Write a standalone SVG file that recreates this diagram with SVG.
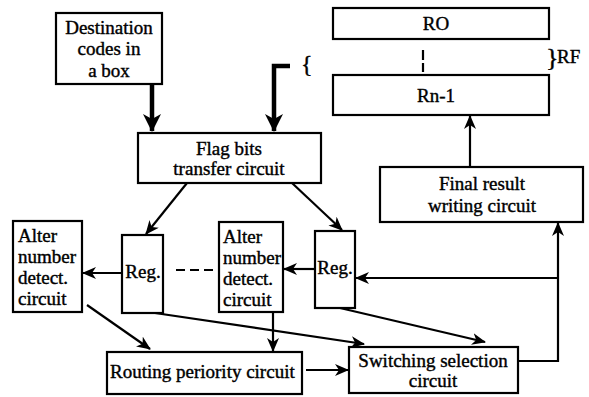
<svg xmlns="http://www.w3.org/2000/svg" width="589" height="397" viewBox="0 0 589 397">
<defs>
<style>
.box{fill:#fff;stroke:#000;stroke-width:2.2}
text{font-family:"Liberation Serif","Times New Roman",Tinos,serif;font-size:19px;fill:#000;stroke:#000;stroke-width:0.4}
.c{text-anchor:middle}
.ln{fill:none;stroke:#000;stroke-width:2.2}
.thick{fill:none;stroke:#000;stroke-width:4.5}
</style>
<marker id="ah" viewBox="0 0 14 12" refX="13" refY="6" markerWidth="14" markerHeight="12" markerUnits="userSpaceOnUse" orient="auto">
<path d="M0,0 L14,6 L0,12 L4,6 z" fill="#000"/>
</marker>
<marker id="ahT" viewBox="0 0 18 18" refX="17" refY="9" markerWidth="18" markerHeight="18" markerUnits="userSpaceOnUse" orient="auto">
<path d="M0,0 L18,9 L0,18 L5,9 z" fill="#000"/>
</marker>
</defs>
<rect width="589" height="397" fill="#fff"/>
<g id="connectors">
<path class="thick" d="M152,84 L152,131" marker-end="url(#ahT)"/>
<path class="thick" d="M290,66 L274,66 L274,131" marker-end="url(#ahT)"/>
<path class="ln" d="M187,183 L146,234" marker-end="url(#ah)"/>
<path class="ln" d="M292,183 L342,230" marker-end="url(#ah)"/>
<path class="ln" d="M122,273 L83,273" marker-end="url(#ah)"/>
<path class="ln" d="M176,270 L213,270" stroke-dasharray="9 5"/>
<path class="ln" d="M315,269 L284,269" marker-end="url(#ah)"/>
<path class="ln" d="M273,312 L273,351" marker-end="url(#ah)"/>
<path class="ln" d="M87,305 L150,349" marker-end="url(#ah)"/>
<path class="ln" d="M155,313 L364,344" marker-end="url(#ah)"/>
<path class="ln" d="M340,308 L485,342" marker-end="url(#ah)"/>
<path class="ln" d="M306,370 L348,370" marker-end="url(#ah)"/>
<path class="ln" d="M518,361 L558,361 L558,223" marker-end="url(#ah)"/>
<path class="ln" d="M558,278 L356,278" marker-end="url(#ah)"/>
<path class="ln" d="M470,167 L470,116" marker-end="url(#ah)"/>
<path class="ln" d="M423,50 L423,72" stroke-dasharray="10 3"/>
</g>
<g id="dest"><rect class="box" x="56" y="13" width="106" height="71"/>
<text class="c" x="109" y="34">Destination</text>
<text class="c" x="109" y="55">codes in</text>
<text class="c" x="109" y="77">a box</text></g>
<g id="flag"><rect class="box" x="138" y="133" width="183" height="50"/>
<text class="c" x="229" y="155">Flag bits</text>
<text class="c" x="229" y="175">transfer circuit</text></g>
<g id="brace-left"><text x="301" y="72" style="font-size:24px">{</text></g>
<g id="RO"><rect class="box" x="333" y="8" width="216" height="31"/>
<text class="c" x="436" y="30">RO</text></g>
<g id="Rn1"><rect class="box" x="333" y="75" width="216" height="40"/>
<text class="c" x="436" y="102">Rn-1</text></g>
<g id="RF"><text x="546" y="66" style="font-size:26px">}</text>
<text x="557" y="63">RF</text></g>
<g id="final"><rect class="box" x="380" y="167" width="203" height="55"/>
<text class="c" x="482" y="190">Final result</text>
<text class="c" x="482" y="212">writing circuit</text></g>
<g id="alterL"><rect class="box" x="13" y="221" width="69" height="91"/>
<text x="18" y="242">Alter</text>
<text x="18" y="263">number</text>
<text x="18" y="284">detect.</text>
<text x="18" y="305">circuit</text></g>
<g id="regL"><rect class="box" x="122" y="235" width="41" height="78"/>
<text class="c" x="143" y="278">Reg.</text></g>
<g id="alterM"><rect class="box" x="219" y="222" width="64" height="90"/>
<text x="223" y="243">Alter</text>
<text x="223" y="264">number</text>
<text x="223" y="285">detect.</text>
<text x="223" y="306">circuit</text></g>
<g id="regR"><rect class="box" x="315" y="231" width="40" height="77"/>
<text class="c" x="335" y="274">Reg.</text></g>
<g id="routing"><rect class="box" x="107" y="352" width="195" height="42"/>
<text x="110" y="378">Routing periority circuit</text></g>
<g id="switching"><rect class="box" x="349" y="347" width="169" height="46"/>
<text class="c" x="433" y="367">Switching selection</text>
<text class="c" x="433" y="387">circuit</text></g>
</svg>
